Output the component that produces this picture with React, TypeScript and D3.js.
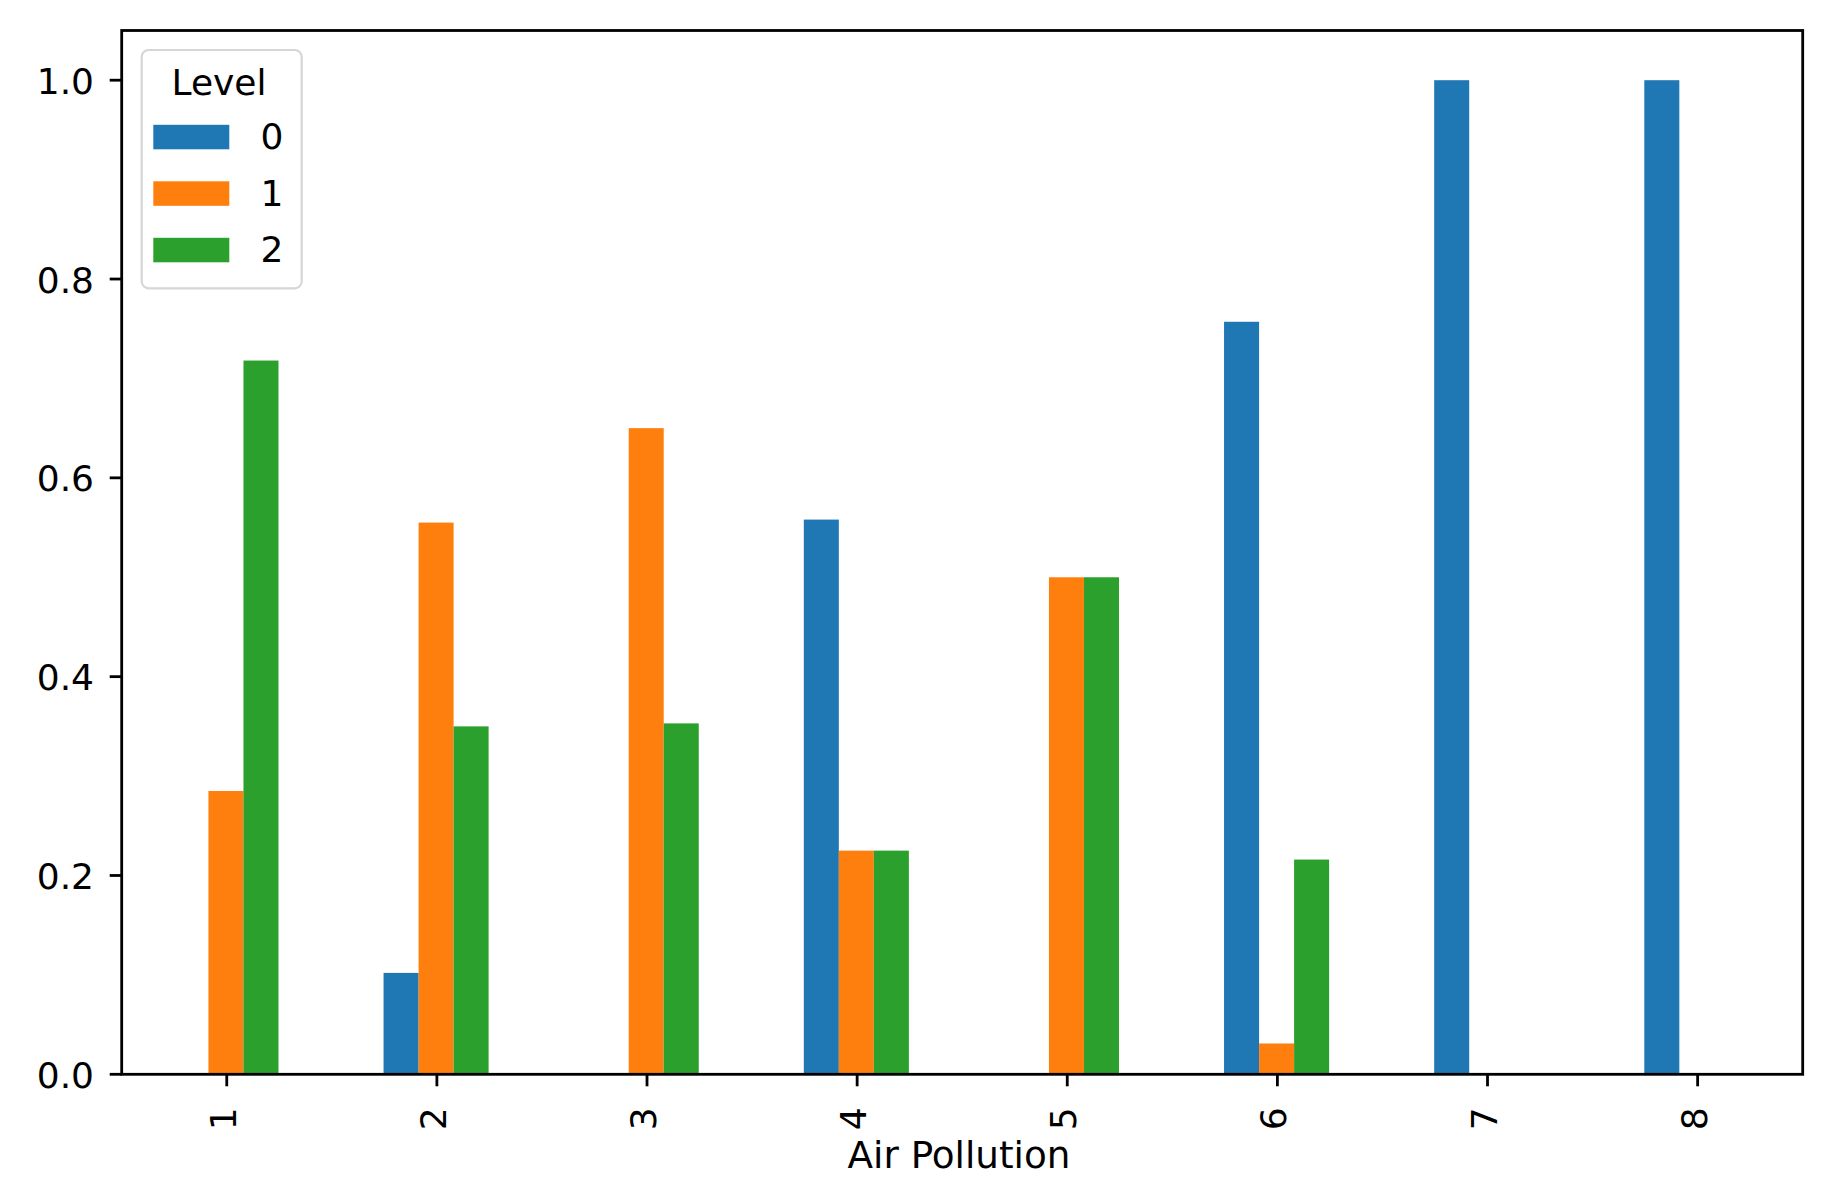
import React from "react";
import * as d3 from "d3";

const categories = ["1", "2", "3", "4", "5", "6", "7", "8"];
const seriesNames = ["0", "1", "2"];
const level0 = [0, 0.102, 0, 0.558, 0, 0.757, 1.0, 1.0];
const level1 = [0.285, 0.555, 0.65, 0.225, 0.5, 0.031, 0, 0];
const level2 = [0.718, 0.35, 0.353, 0.225, 0.5, 0.216, 0, 0];
const yTicks = [0, 0.2, 0.4, 0.6, 0.8, 1.0];
const colors = ["#1f77b4", "#ff7f0e", "#2ca02c"];
const xLabel = "Air Pollution";
const legendTitle = "Level";

const W = 1833;
const H = 1201;
const left = 121.7;
const right = 1802.7;
const top = 30.5;
const bottom = 1074.3;
const FONT = "'DejaVu Sans', sans-serif";
const FS = 36;

export default function App() {
  const series = [level0, level1, level2];
  const x = d3.scaleLinear().domain([-0.5, categories.length - 0.5]).range([left, right]);
  const y = d3.scaleLinear().domain([0, 1.05]).range([bottom, top]);
  const totalW = 0.5;
  const bw = totalW / series.length;
  const pxBw = x(bw) - x(0);

  return (
    <svg width={W} height={H} style={{ position: "absolute", left: 0, top: 0, background: "#fff" }}>
      <rect x={0} y={0} width={W} height={H} fill="#fff" />
      {series.map((vals, si) =>
        vals.map((v, ci) => {
          const cx = ci + (si - (series.length - 1) / 2) * bw;
          const x0 = x(cx) - pxBw / 2 - 0.8;
          return (
            <rect
              key={`b${si}-${ci}`}
              x={x0}
              y={y(v)}
              width={pxBw}
              height={Math.max(0, y(0) - y(v))}
              fill={colors[si]}
            />
          );
        })
      )}
      {/* y ticks */}
      {yTicks.map((t) => (
        <g key={`yt${t}`}>
          <line x1={left - 12} x2={left} y1={y(t)} y2={y(t)} stroke="#000" strokeWidth={2.8} />
          <text x={94} y={y(t) + 13.5} textAnchor="end" fontFamily={FONT} fontSize={FS} fill="#000">
            {t.toFixed(1)}
          </text>
        </g>
      ))}
      {/* x ticks */}
      {categories.map((c, i) => (
        <g key={`xt${c}`}>
          <line x1={x(i)} x2={x(i)} y1={bottom} y2={bottom + 12} stroke="#000" strokeWidth={2.8} />
          <text
            transform={`translate(${x(i) + 9},${bottom + 33}) rotate(-90)`}
            textAnchor="end"
            fontFamily={FONT}
            fontSize={FS}
            fill="#000"
          >
            {c}
          </text>
        </g>
      ))}
      {/* spines */}
      <rect x={left} y={top} width={right - left} height={bottom - top} fill="none" stroke="#000" strokeWidth={2.8} />
      {/* x label */}
      <text x={959} y={1167.5} textAnchor="middle" fontFamily={FONT} fontSize={37.3} fill="#000">
        {xLabel}
      </text>
      {/* legend */}
      <rect x={141.7} y={50} width={160} height={238.3} rx={7} ry={7} fill="#fff" fillOpacity={0.8} stroke="#d6d6d6" strokeWidth={2.2} />
      <text x={219} y={95} textAnchor="middle" fontFamily={FONT} fontSize={FS} fill="#000">
        {legendTitle}
      </text>
      {seriesNames.map((n, i) => {
        const cy = 137 + i * 56.5;
        return (
          <g key={`lg${n}`}>
            <rect x={153.3} y={cy - 12.2} width={76} height={24.5} fill={colors[i]} />
            <text x={260.6} y={cy + 12.3} fontFamily={FONT} fontSize={FS} fill="#000">
              {n}
            </text>
          </g>
        );
      })}
    </svg>
  );
}
